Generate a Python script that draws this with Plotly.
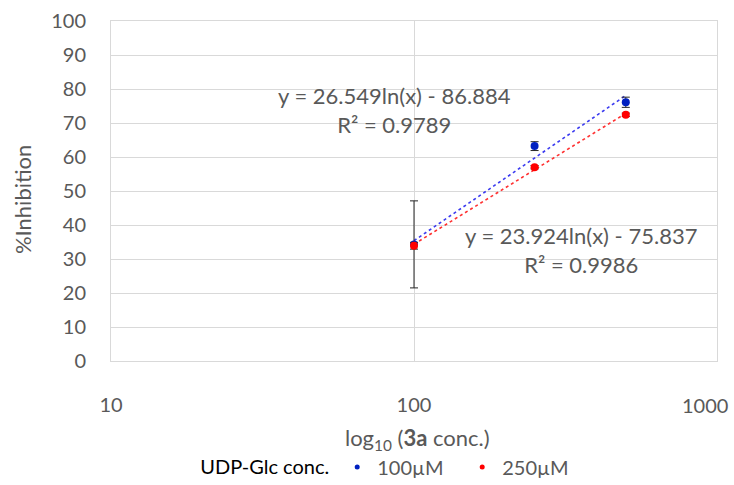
import numpy as np
import plotly.graph_objects as go

# Concentrations of 3a (µM) and measured inhibition (%)
conc = [100, 250, 500]
inhib_100 = [34.3, 63.2, 76.1]
err_100 = [12.8, 1.3, 1.5]
inhib_250 = [33.9, 57.0, 72.4]
err_250 = [1.0, 0.5, 0.5]

# Logarithmic trendline coefficients: y = a*ln(x) + b, with R²
fit_100 = (26.549, -86.884, 0.9789)
fit_250 = (23.924, -75.837, 0.9986)

series_names = ["100µM", "250µM"]
y_ticks = list(range(0, 101, 10))
x_ticks = [10, 100, 1000]

BLUE = "#0020C0"
RED = "#FF0000"
GREY_TEXT = "#595959"
GRID = "#D9D9D9"
FONT = "Lato, 'Open Sans', sans-serif"

fig = go.Figure()

xs = np.linspace(min(conc), max(conc), 60)
for (a, b, _), col in ((fit_100, "#3B3BF0"), (fit_250, "#FF3030")):
    fig.add_trace(go.Scatter(
        x=xs, y=a * np.log(xs) + b, mode="lines",
        line=dict(color=col, width=1.6, dash="dot"),
        showlegend=False, hoverinfo="skip"))

for name, ys, es, col in ((series_names[0], inhib_100, err_100, BLUE),
                          (series_names[1], inhib_250, err_250, RED)):
    fig.add_trace(go.Scatter(
        x=conc, y=ys, mode="markers", name=name, showlegend=False,
        marker=dict(color=col, size=8),
        error_y=dict(type="data", array=es, color="#262626",
                     thickness=1, width=4)))
    # small legend-only marker
    fig.add_trace(go.Scatter(
        x=[None], y=[None], mode="markers", name=name,
        marker=dict(color=col, size=5)))

def eq_text(fit):
    a, b, r2 = fit
    return f"y = {a:.3f}ln(x) - {abs(b):.3f}<br>R² = {r2:.4f}"

eq_font = dict(size=22, color=GREY_TEXT, family=FONT)
fig.add_annotation(x=np.log10(86), y=73.8, xref="x", yref="y",
                   text=eq_text(fit_100), showarrow=False,
                   font=eq_font, align="center")
fig.add_annotation(x=np.log10(356), y=32.6, xref="x", yref="y",
                   text=eq_text(fit_250), showarrow=False,
                   font=eq_font, align="center")

# The last x tick label is right-aligned to the axis end so it fits the page
fig.add_annotation(x=np.log10(x_ticks[-1]), y=-0.129, xref="x", yref="paper",
                   text=str(x_ticks[-1]), showarrow=False,
                   xanchor="right", yanchor="middle", xshift=13,
                   font=dict(size=20, color=GREY_TEXT, family=FONT))

# Axis titles
fig.add_annotation(x=0.505, y=-0.229, xref="paper", yref="paper",
                   text="log<sub>10</sub> (<b>3a</b> conc.)", showarrow=False,
                   font=dict(size=22, color=GREY_TEXT, family=FONT),
                   yanchor="middle")
fig.add_annotation(x=-0.147, y=0.476, xref="paper", yref="paper",
                   text="%Inhibition", showarrow=False, textangle=-90,
                   font=dict(size=22, color=GREY_TEXT, family=FONT),
                   xanchor="center", yanchor="middle")

fig.update_layout(
    width=734, height=485,
    margin=dict(l=111, r=17, t=21, b=124, autoexpand=False),
    paper_bgcolor="white", plot_bgcolor="white",
    font=dict(family=FONT, size=20, color=GREY_TEXT),
    legend=dict(orientation="h", x=0.144, xanchor="left",
                y=-0.312, yanchor="middle",
                title=dict(text="UDP-Glc conc.", side="left",
                           font=dict(color="#000000", size=20)),
                font=dict(size=20, color=GREY_TEXT),
                itemsizing="trace", entrywidth=80, tracegroupgap=0),
)

fig.update_xaxes(type="log", range=[1, 3], tickvals=x_ticks[:-1],
                 ticktext=[str(v) for v in x_ticks[:-1]],
                 showgrid=True, gridcolor=GRID, gridwidth=1,
                 showline=True, linecolor=GRID, mirror=True,
                 ticks="", ticklabelstandoff=26, zeroline=False)
fig.update_yaxes(range=[0, 100], tickvals=y_ticks,
                 showgrid=True, gridcolor=GRID, gridwidth=1,
                 showline=True, linecolor=GRID, mirror=True,
                 ticks="", ticklabelstandoff=20, zeroline=False)

fig.write_html("out.html")
